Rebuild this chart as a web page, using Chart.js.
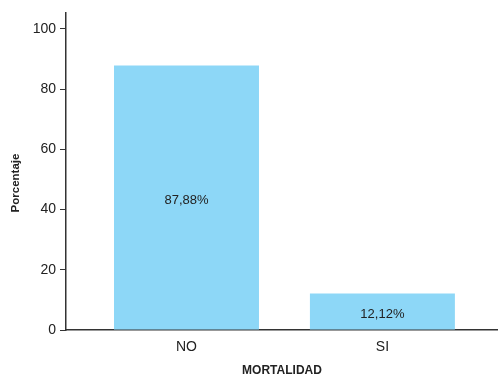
<!DOCTYPE html>
<html>
<head>
<meta charset="utf-8">
<script src="https://cdn.jsdelivr.net/npm/chart.js@4.4.1/dist/chart.umd.min.js"></script>
<style>
  html, body { margin: 0; padding: 0; background: #fff; }
  #wrap { width: 498px; height: 375px; position: relative; }
</style>
</head>
<body>
<div id="wrap"><canvas id="chart"></canvas></div>
<script>
// Data
const categories = ['NO', 'SI'];
const percentages = [87.88, 12.12];
const valueLabels = ['87,88%', '12,12%'];
const yTicks = [0, 20, 40, 60, 80, 100];

const FONT = "'Liberation Sans', Arial, sans-serif";
const INK = '#222';

// Value label drawn at the middle of each bar
const barLabels = {
    id: 'barLabels',
    afterDatasetsDraw(chart) {
        const ctx = chart.ctx;
        const meta = chart.getDatasetMeta(0);
        ctx.save();
        ctx.font = '13px ' + FONT;
        ctx.fillStyle = INK;
        ctx.textAlign = 'center';
        ctx.textBaseline = 'middle';
        meta.data.forEach((bar, i) => {
            const { x, y, base } = bar.getProps(['x', 'y', 'base'], true);
            ctx.fillText(valueLabels[i], x, (y + base) / 2 + 3);
        });
        ctx.restore();
    }
};

// Rotated y title, sits a bit below the axis middle like the original
const yTitle = {
    id: 'yTitle',
    afterDraw(chart) {
        const ctx = chart.ctx;
        ctx.save();
        ctx.translate(16, 183);
        ctx.rotate(-Math.PI / 2);
        ctx.font = 'bold 11.5px ' + FONT;
        ctx.fillStyle = INK;
        ctx.textAlign = 'center';
        ctx.textBaseline = 'middle';
        ctx.fillText('Porcentaje', 0, 0);
        ctx.restore();
    }
};

new Chart(document.getElementById('chart'), {
    type: 'bar',
    data: {
        datasets: [{
            data: percentages.map((v, i) => ({ x: i, y: v })),
            backgroundColor: '#8dd7f7',
            borderWidth: 0,
            barPercentage: 0.74,
            categoryPercentage: 1
        }]
    },
    options: {
        responsive: true,
        maintainAspectRatio: false,
        animation: false,
        layout: { padding: { top: 12, right: 0, left: 0, bottom: 0 } },
        plugins: {
            legend: { display: false },
            tooltip: { enabled: false }
        },
        scales: {
            x: {
                type: 'linear',
                offset: false,
                min: -0.615,
                max: 1.59,
                afterBuildTicks: (scale) => {
                    scale.ticks = categories.map((c, i) => ({ value: i }));
                },
                afterFit: (scale) => { scale.height = 45; },
                ticks: {
                    callback: (value) => categories[value],
                    color: INK,
                    font: { family: FONT, size: 14 },
                    padding: 9,
                    maxRotation: 0
                },
                grid: { display: false, drawTicks: false },
                border: { display: true, color: '#333', width: 1.5 },
                title: {
                    display: true,
                    text: 'MORTALIDAD',
                    color: INK,
                    font: { family: FONT, size: 12, weight: 'bold' },
                    padding: { top: 0, bottom: -3 }
                }
            },
            y: {
                min: 0,
                max: 105.5,
                afterBuildTicks: (scale) => {
                    scale.ticks = yTicks.map(v => ({ value: v }));
                },
                afterFit: (scale) => { scale.width = 66; },
                ticks: {
                    color: INK,
                    font: { family: FONT, size: 14 },
                    padding: 4
                },
                grid: {
                    drawOnChartArea: false,
                    drawTicks: true,
                    tickLength: 6,
                    tickColor: '#333',
                    tickWidth: 1
                },
                border: { display: true, color: '#333', width: 1.5 }
            }
        }
    },
    plugins: [barLabels, yTitle]
});
</script>
</body>
</html>
